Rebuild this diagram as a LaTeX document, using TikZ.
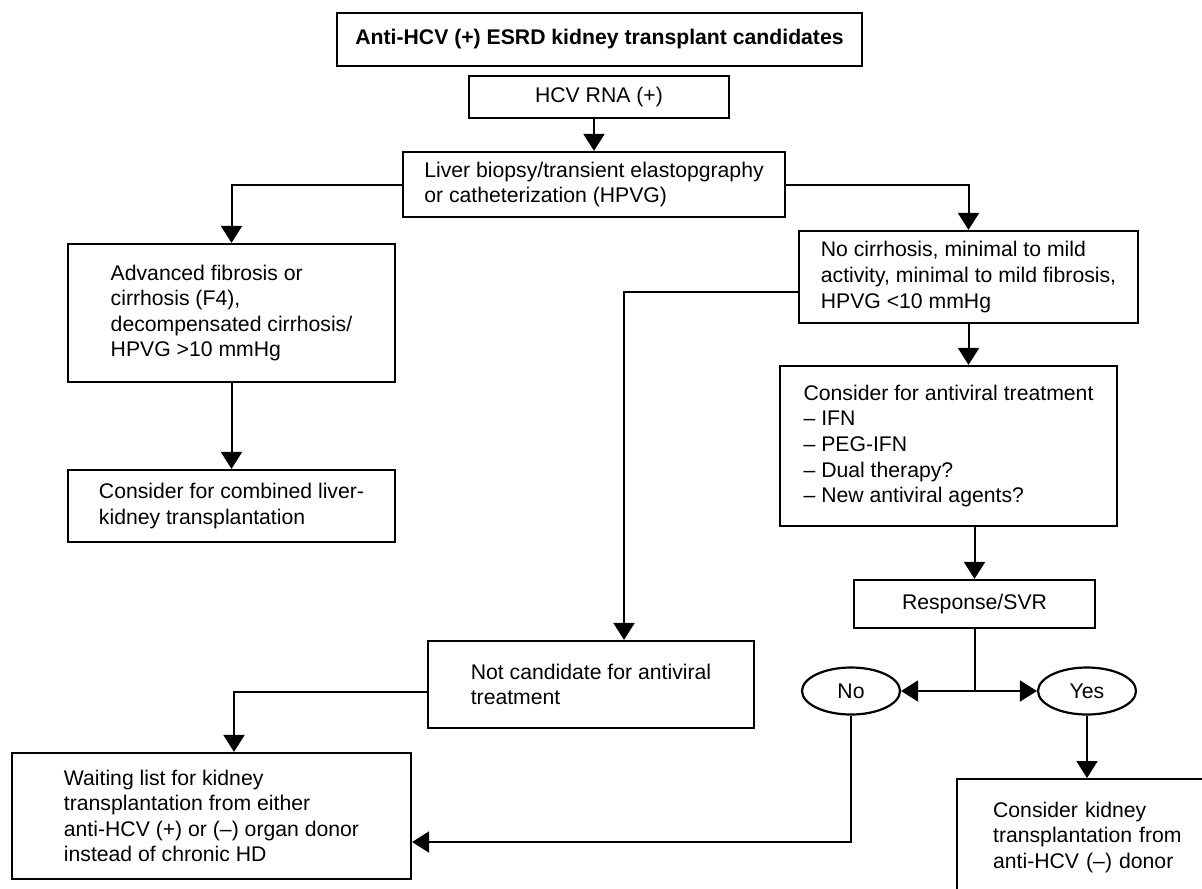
\documentclass[tikz,border=0pt]{standalone}
\usepackage{fontspec}
\setmainfont{Liberation Sans}
\usetikzlibrary{arrows.meta, positioning, shapes.geometric}

\begin{document}
\begin{tikzpicture}[x=0.5pt, y=-0.5pt, font=\fontsize{10.6pt}{12.8pt}\selectfont]
        \tikzstyle{box} = [rectangle, draw, line width=1.1pt, inner sep=0pt, align=left]
        \tikzstyle{answer} = [ellipse, draw, line width=1.1pt, inner sep=0pt, minimum width=49pt, minimum height=23.5pt]
        \tikzstyle{arrow} = [-{Triangle[length=8.5pt, width=10.5pt]}, line width=1pt]
        \tikzstyle{link} = [line width=1pt]

        \useasboundingbox (0,0) rectangle (1202,888);
        \clip (0,0) rectangle (1202,888);

        % Nodes
        \node (cand) [box, minimum width=262.5pt, minimum height=26.5pt, font=\fontsize{10.6pt}{12.8pt}\selectfont\bfseries] at (599.5,39.5) {Anti-HCV (+) ESRD kidney transplant candidates};
        \node (hcv) [box, minimum width=130pt, minimum height=21pt] at (599,97) {HCV RNA (+)};
        \node (liver) [box, minimum width=191pt, minimum height=32.5pt] at (594,184.5) {Liver biopsy/transient elastopgraphy\\or catheterization (HPVG)};
        \node (adv) [box, minimum width=163.5pt, minimum height=69pt] at (231.5,313) {Advanced fibrosis or\\cirrhosis (F4),\\decompensated cirrhosis/\\HPVG >10 mmHg};
        \node (comb) [box, minimum width=163.5pt, minimum height=36pt] at (231.5,506) {Consider for combined liver-\\kidney transplantation};
        \node (nocirr) [box, minimum width=169.5pt, minimum height=46pt] at (968.5,277) {No cirrhosis, minimal to mild\\activity, minimal to mild fibrosis,\\HPVG <10 mmHg};
        \node (anti) [box, minimum width=168.5pt, minimum height=80pt] at (948.5,446) {Consider for antiviral treatment\\– IFN\\– PEG-IFN\\– Dual therapy?\\– New antiviral agents?};
        \node (resp) [box, minimum width=120.5pt, minimum height=24pt] at (974.5,604) {Response/SVR};
        \node (no) [answer] at (851,691) {No};
        \node (yes) [answer] at (1087,691) {Yes};
        \node (notc) [box, minimum width=163pt, minimum height=43.5pt] at (591,684.5) {Not candidate for antiviral\\treatment};
        \node (wait) [box, minimum width=199.5pt, minimum height=63pt] at (211.5,816) {Waiting list for kidney\\transplantation from either\\anti-HCV (+) or (–) organ donor\\instead of chronic HD};
        \node (final) [box, anchor=north west, text width=100pt, inner xsep=18pt, minimum height=58pt] at (956,778) {Consider kidney\\transplantation from\\anti-HCV (–) donor};

        % Arrows
        \draw [arrow] (liver.north |- hcv.south) -- (liver.north);
        \draw [arrow] (liver.west) -| (adv.north);
        \draw [arrow] (liver.east) -| (nocirr.north);
        \draw [arrow] (adv) -- (comb);
        \draw [arrow] ([yshift=-7.5pt]nocirr.west) -| ([xshift=16.5pt]notc.north);
        \draw [arrow] (nocirr.south) -- (nocirr.south |- anti.north);
        \draw [arrow] (resp.north |- anti.south) -- (resp.north);
        \draw [arrow] ([yshift=-3.5pt]notc.west) -| ([xshift=11.25pt]wait.north);

        % Response split
        \coordinate (fork) at (resp.south |- no.east);
        \draw [link] (resp.south) -- (fork);
        \draw [arrow] (fork) -- (no.east);
        \draw [arrow] (fork) -- (yes.west);
        \draw [arrow] (no.south) |- ([yshift=-13pt]wait.east);
        \draw [arrow] (yes.south) -- (yes.south |- final.north);
\end{tikzpicture}
\end{document}
